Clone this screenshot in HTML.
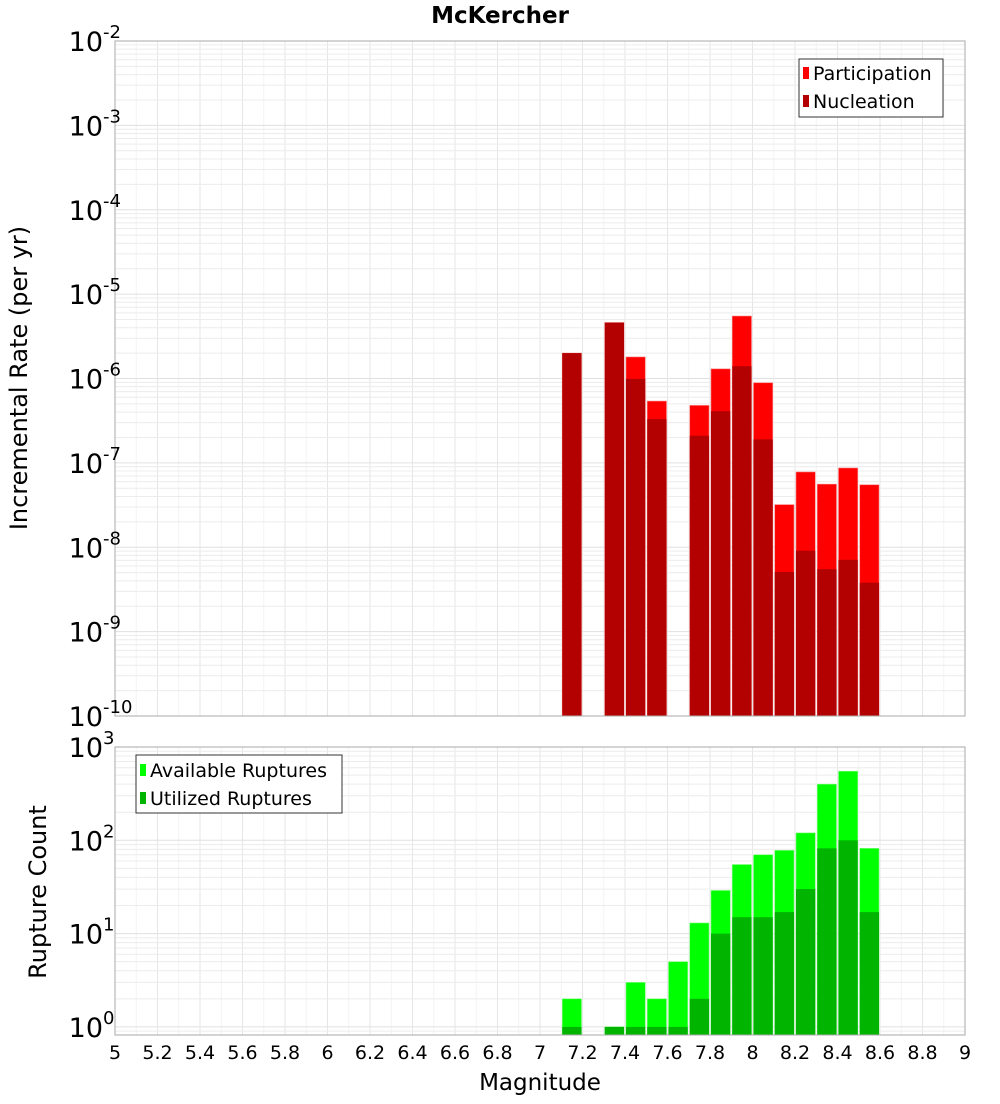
<!DOCTYPE html>
<html><head><meta charset="utf-8"><style>
body{margin:0;background:#fff;font-family:"DejaVu Sans","Liberation Sans",sans-serif}
svg text{font-family:"DejaVu Sans","Liberation Sans",sans-serif}
</style></head><body>
<svg id="c" width="1000" height="1100" xmlns="http://www.w3.org/2000/svg"></svg>
<script>
const mags=[7.15,7.35,7.45,7.55,7.65,7.75,7.85,7.95,8.05,8.15,8.25,8.35,8.45,8.55];
const participation=[2.0e-6,4.6e-6,1.8e-6,5.4e-7,null,4.8e-7,1.3e-6,5.5e-6,8.9e-7,3.2e-8,7.8e-8,5.6e-8,8.7e-8,5.5e-8];
const nucleation=[2.0e-6,4.6e-6,9.9e-7,3.3e-7,null,2.1e-7,4.1e-7,1.4e-6,1.9e-7,5.1e-9,9.1e-9,5.5e-9,7.1e-9,3.8e-9];
const available=[2,1,3,2,5,13,29,55,70,78,120,400,550,82];
const utilized=[1,1,1,1,1,2,10,15,15,17,30,82,100,17];
const xTicks=["5","5.2","5.4","5.6","5.8","6","6.2","6.4","6.6","6.8","7","7.2","7.4","7.6","7.8","8","8.2","8.4","8.6","8.8","9"];
const topExps=[-2,-3,-4,-5,-6,-7,-8,-9,-10];
const botExps=[3,2,1,0];

const NS="http://www.w3.org/2000/svg";
const svg=document.getElementById('c');
function el(t,a,p){const e=document.createElementNS(NS,t);for(const k in a)e.setAttribute(k,a[k]);(p||svg).appendChild(e);return e;}
const X0=115,X1=965;
const x=m=>X0+(m-5)/4*(X1-X0);
const T0=41,T1=716;
const yTop=v=>T0+(-2-Math.log10(v))/8*(T1-T0);
const B0=747,B1=1035,BD=93.3;
const yBot=v=>B0+(3-Math.log10(v))*BD;

function grid(y0,y1,yf,lo,hi,name){
  const g=el('g',{});
  
  
  for(let i=0;i<=40;i++){const xx=x(5+i*0.1);el('line',{x1:xx,x2:xx,y1:y0,y2:y1,stroke:i%2?'#f4f4f4':'#e6e6e6','stroke-width':1},g);}
  for(let e=lo;e<hi;e++)for(let k=1;k<10;k++){const yy=yf(k*Math.pow(10,e));if(yy<y0||yy>y1)continue;el('line',{x1:X0,x2:X1,y1:yy,y2:yy,stroke:k==1?'#e0e0e0':'#ececec','stroke-width':1},g);}
}
grid(T0,T1,yTop,-10,-2,'top-grid');
grid(B0,B1,yBot,-1,3,'bottom-grid');

mags.forEach((m,i)=>{
  if(participation[i]!=null){const r=el('rect',{x:x(m-0.05)+1,y:yTop(participation[i]),width:x(m+0.05)-x(m-0.05)-2,height:T1-yTop(participation[i]),fill:'#ff0000',stroke:'#ff8080','stroke-width':0.6});
  
  }
  if(nucleation[i]!=null){const r=el('rect',{x:x(m-0.05)+1,y:yTop(nucleation[i]),width:x(m+0.05)-x(m-0.05)-2,height:T1-yTop(nucleation[i]),fill:'#b30000'});
  
  }
});
mags.forEach((m,i)=>{
  const ya=yBot(available[i]);
  const r=el('rect',{x:x(m-0.05)+1,y:ya,width:x(m+0.05)-x(m-0.05)-2,height:B1-ya,fill:'#00ff00',stroke:'#80ff80','stroke-width':0.6});
  
  
  const yu=yBot(utilized[i]);
  const r2=el('rect',{x:x(m-0.05)+1,y:yu,width:x(m+0.05)-x(m-0.05)-2,height:B1-yu,fill:'#00b400'});
  
  
});
el('rect',{x:X0,y:T0,width:X1-X0,height:T1-T0,fill:'none',stroke:'#aaa'});
el('rect',{x:X0,y:B0,width:X1-X0,height:B1-B0,fill:'none',stroke:'#aaa'});

function powLabel(e,yy,nm){
  const t=el('text',{x:103,y:yy+10,'text-anchor':'end','font-size':27,fill:'#000'});
  
  
  t.textContent='10';
  const s=el('text',{x:103,y:yy-3,'text-anchor':'start','font-size':18,fill:'#000'});
  
  
  s.textContent=String(e);
}
topExps.forEach(e=>powLabel(e,yTop(Math.pow(10,e)),'top-y-tick'));
botExps.forEach(e=>powLabel(e,yBot(Math.pow(10,e)),'bottom-y-tick'));
xTicks.forEach(t=>{
  const tx=el('text',{x:x(parseFloat(t)),y:1059,'text-anchor':'middle','font-size':19,fill:'#000'});
  
  
  tx.textContent=t;
});
</script>
<svg width="1000" height="1100" style="position:absolute;left:0;top:0" xmlns="http://www.w3.org/2000/svg">
<text x="500" y="23" text-anchor="middle" font-size="23" font-weight="bold">McKercher</text>
<text x="540" y="1090" text-anchor="middle" font-size="23">Magnitude</text>
<text transform="translate(27,378) rotate(-90)" text-anchor="middle" font-size="24">Incremental Rate (per yr)</text>
<text transform="translate(46,892) rotate(-90)" text-anchor="middle" font-size="24">Rupture Count</text>
<g>
<rect x="799" y="59" width="144" height="58" fill="#fff" stroke="#333"/>
<rect x="803" y="67" width="6" height="12" fill="#ff0000"/>
<text x="813" y="80" font-size="19">Participation</text>
<rect x="803" y="95" width="6" height="12" fill="#b30000"/>
<text x="813" y="108" font-size="19">Nucleation</text>
</g>
<g>
<rect x="136" y="755" width="206" height="58" fill="#fff" stroke="#333"/>
<rect x="140" y="764" width="6" height="12" fill="#00ff00"/>
<text x="150" y="777" font-size="19">Available Ruptures</text>
<rect x="140" y="792" width="6" height="12" fill="#00b400"/>
<text x="150" y="805" font-size="19">Utilized Ruptures</text>
</g>
</svg>
</body></html>
